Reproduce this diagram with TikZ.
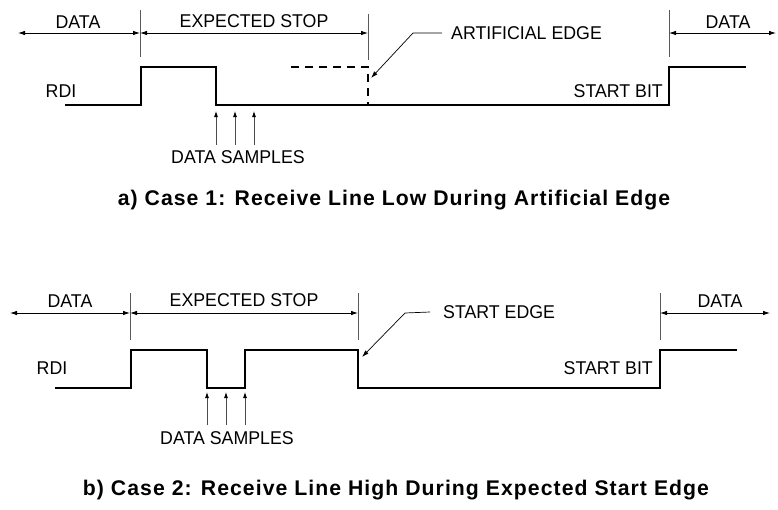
\documentclass[tikz,border=0pt]{standalone}
\usepackage{fontspec}
\setmainfont{Liberation Sans}
\newfontfamily\lblfont[FakeStretch=0.96]{Liberation Sans}
\newfontfamily\capfont[LetterSpace=5]{Liberation Sans}
\usetikzlibrary{arrows.meta}
\tikzset{
    sig/.style={line width=2.4pt, line join=miter},
    dsig/.style={line width=2pt, dash pattern=on 8pt off 6pt},
    tickline/.style={line width=0.8pt, color=gray!70!black},
    dim/.style={line width=0.8pt, {Latex[length=7pt,width=4.5pt]}-{Latex[length=7pt,width=4.5pt]}},
    lead/.style={line width=0.7pt, -{Latex[length=7pt,width=4.5pt]}},
    smp/.style={line width=0.8pt, color=gray!60!black, -{Latex[length=6pt,width=4pt,color=black]}},
    lbl/.style={font=\lblfont\fontsize{18.5}{18.5}\selectfont, inner sep=0pt},
    captxt/.style={font=\capfont\fontsize{21.2}{21.2}\selectfont\bfseries, inner sep=0pt},
}
\begin{document}
\begin{tikzpicture}[x=1pt, y=-1pt]
    \useasboundingbox (0,0) rectangle (778,509);
    % case 1
    \coordinate (ta1) at (140,33);
    \coordinate (ta2) at (368,33);
    \coordinate (ta3) at (669,33);
    \draw[tickline] (140,10) -- (140,57);
    \draw[tickline] (368,14) -- (368,60);
    \draw[tickline] (669,10) -- (669,57);
    \draw[dim] (18,33) -- (ta1);
    \draw[dim] (ta1) -- (ta2);
    \draw[dim] (ta3) -- (776,33);
    \node[lbl] (dataAl) at (78,22) {DATA};
    \node[lbl] (stopA) at (254,21) {EXPECTED STOP};
    \node[lbl] (dataAr) at (728,22) {DATA};
    \draw[sig] (65,105) -- (141,105) -- (141,67) -- (216,67) -- (216,105)
        -- (669,105) -- (669,67) -- (746,67);
    \draw[dsig] (291,67) -- (368,67) -- (368,105);
    \node[lbl, anchor=west] (artA) at (451,33) {ARTIFICIAL EDGE};
    \coordinate (artK) at (413,33);
    \coordinate (artT) at (371,78);
    \draw[lead] ([xshift=-9pt]artA.west) -- (artK) -- (artT);
    \node[lbl] (rdiA) at (61,91) {RDI};
    \node[lbl, anchor=east] (bitA) at (663,91) {START BIT};
    \foreach \x in {216,235,254}
        \draw[smp] (\x,145) -- (\x,111);
    \node[lbl] (smpA) at (238,157) {DATA SAMPLES};
    \node[captxt] (capA) at (394,200) {a) Case 1: Receive Line Low During Artificial Edge};
    % case 2
    \coordinate (tb1) at (130,313);
    \coordinate (tb2) at (358,313);
    \coordinate (tb3) at (660,313);
    \draw[tickline] (130,293) -- (130,340);
    \draw[tickline] (358,293) -- (358,340);
    \draw[tickline] (660,293) -- (660,340);
    \draw[dim] (10,313) -- (tb1);
    \draw[dim] (tb1) -- (tb2);
    \draw[dim] (tb3) -- (770,313);
    \node[lbl] (dataBl) at (70,301) {DATA};
    \node[lbl] (stopB) at (244,300) {EXPECTED STOP};
    \node[lbl] (dataBr) at (720,301) {DATA};
    \draw[sig] (55,388) -- (131,388) -- (131,350) -- (207,350) -- (207,388)
        -- (245,388) -- (245,350) -- (358,350) -- (358,388) -- (660,388)
        -- (660,350) -- (737,350);
    \node[lbl, anchor=west] (edgeB) at (443,312) {START EDGE};
    \coordinate (edgeK) at (405,313);
    \coordinate (edgeT) at (362,357);
    \draw[lead] ([xshift=-13pt]edgeB.west) -- (edgeK) -- (edgeT);
    \node[lbl] (rdiB) at (52,368) {RDI};
    \node[lbl, anchor=east] (bitB) at (653,368) {START BIT};
    \foreach \x in {207,226,245}
        \draw[smp] (\x,425) -- (\x,392);
    \node[lbl] (smpB) at (227,438) {DATA SAMPLES};
    \node[captxt] (capB) at (396,490) {b) Case 2: Receive Line High During Expected Start Edge};
\end{tikzpicture}
\end{document}
